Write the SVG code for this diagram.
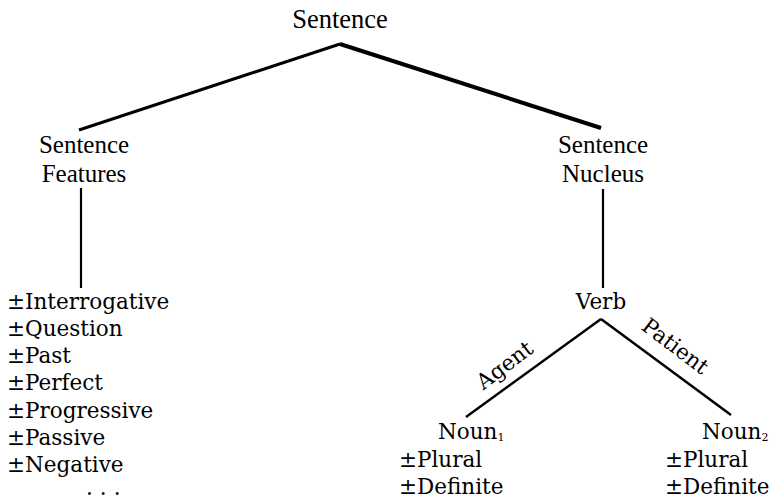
<svg xmlns="http://www.w3.org/2000/svg" width="778" height="504" viewBox="0 0 778 504">
<style>
.top{font-family:"Liberation Serif",serif;font-size:25px;fill:#000;text-anchor:middle}
.big{font-size:26.5px}
.t{font-family:"DejaVu Serif",serif;font-size:21.5px;fill:#000}
.m{text-anchor:middle}
.sub{font-size:11px}
.ln{stroke:#000;fill:none;stroke-linecap:butt}
</style>
<rect width="778" height="504" fill="#fff"/>
<g id="connectors">
<line class="ln" x1="340" y1="44" x2="79" y2="130" stroke-width="3"/>
<line class="ln" x1="340" y1="44" x2="601" y2="128" stroke-width="4"/>
<line class="ln" x1="81" y1="188" x2="81" y2="288" stroke-width="2.2"/>
<line class="ln" x1="603" y1="189" x2="603" y2="288" stroke-width="2.2"/>
<line class="ln" x1="601" y1="319" x2="466" y2="417" stroke-width="2.5"/>
<line class="ln" x1="601" y1="319" x2="731" y2="415" stroke-width="2.5"/>
<text class="t m" transform="translate(509,371) rotate(-37)">Agent</text>
<text class="t m" transform="translate(671,352) rotate(37)">Patient</text>
</g>
<g id="sentence"><text class="top big" x="340" y="28">Sentence</text></g>
<g id="features">
<text class="top" x="84" y="153">Sentence</text>
<text class="top" x="84" y="182">Features</text>
</g>
<g id="nucleus">
<text class="top" x="603" y="153">Sentence</text>
<text class="top" x="603" y="182">Nucleus</text>
</g>
<g id="feature-list">
<text class="t" x="7" y="309">±Interrogative</text>
<text class="t" x="7" y="336">±Question</text>
<text class="t" x="7" y="363">±Past</text>
<text class="t" x="7" y="390">±Perfect</text>
<text class="t" x="7" y="418">±Progressive</text>
<text class="t" x="7" y="445">±Passive</text>
<text class="t" x="7" y="472">±Negative</text>
<text class="t" x="86" y="495" letter-spacing="7">...</text>
</g>
<g id="verb"><text class="t m" x="601" y="309">Verb</text></g>
<g id="noun1">
<text class="t" x="438" y="439">Noun<tspan class="sub" dy="2">1</tspan></text>
<text class="t" x="399" y="467">±Plural</text>
<text class="t" x="399" y="494">±Definite</text>
</g>
<g id="noun2">
<text class="t" x="702" y="439">Noun<tspan class="sub" dy="2">2</tspan></text>
<text class="t" x="665" y="467">±Plural</text>
<text class="t" x="665" y="494">±Definite</text>
</g>
</svg>
